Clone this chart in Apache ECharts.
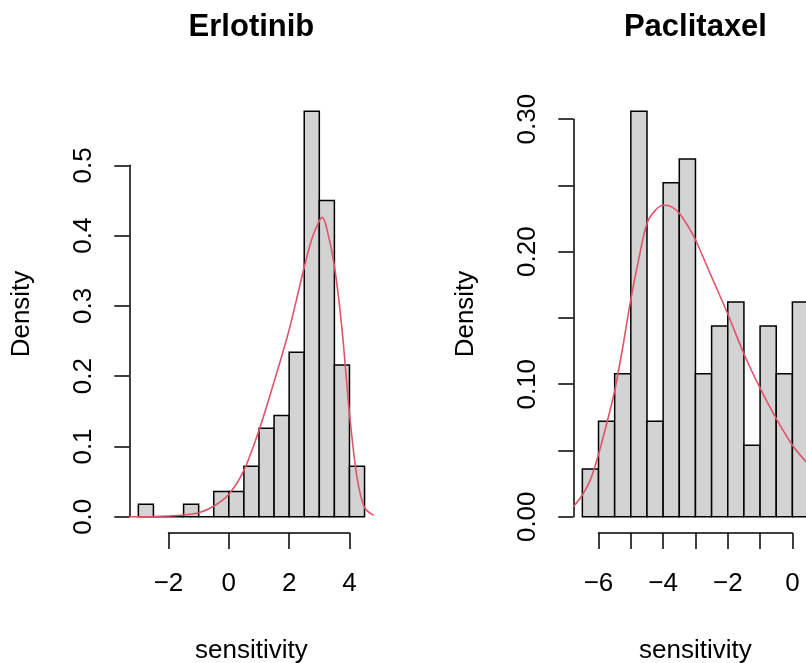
<!DOCTYPE html>
<html>
<head>
<meta charset="utf-8">
<script src="https://cdn.jsdelivr.net/npm/echarts@6/dist/echarts.min.js"></script>
<style>
  html, body { margin: 0; padding: 0; background: #fff; }
  #chart { width: 806px; height: 663px; }
</style>
</head>
<body>
<div id="chart"></div>
<script>
// Erlotinib histogram (bin width 0.5) and density curve
const erlBreaks = [-3, -2.5, -2, -1.5, -1, -0.5, 0, 0.5, 1, 1.5, 2, 2.5, 3, 3.5, 4, 4.5];
const erlDensity = [0.018, 0, 0, 0.018, 0, 0.036, 0.036, 0.072, 0.126, 0.144, 0.234, 0.577, 0.450, 0.216, 0.072];
const erlCurveX = [-3.3, -2.5, -2.0, -1.5, -1.0, -0.5, 0.0, 0.5, 1.0, 1.5, 1.75, 2.0, 2.25, 2.5, 2.75, 3.0, 3.1, 3.25, 3.5, 3.75, 4.0, 4.25, 4.5, 4.8];
const erlCurveY = [0, 0.0003, 0.001, 0.0025, 0.0057, 0.015, 0.032, 0.066, 0.123, 0.192, 0.228, 0.266, 0.31, 0.355, 0.395, 0.421, 0.426, 0.41, 0.357, 0.268, 0.147, 0.056, 0.013, 0.002];
const erlXTicks = [-2, 0, 2, 4];
const erlXLabels = ['−2', '0', '2', '4'];
const erlYTicks = [0, 0.1, 0.2, 0.3, 0.4, 0.5];
const erlYLabels = ['0.0', '0.1', '0.2', '0.3', '0.4', '0.5'];

// Paclitaxel histogram (bin width 0.5) and density curve
const pacBreaks = [-6.5, -6, -5.5, -5, -4.5, -4, -3.5, -3, -2.5, -2, -1.5, -1, -0.5, 0, 0.5];
const pacDensity = [0.036, 0.072, 0.108, 0.306, 0.072, 0.252, 0.270, 0.108, 0.144, 0.162, 0.054, 0.144, 0.108, 0.162];
const pacCurveX = [-6.78, -6.5, -6.25, -6.0, -5.75, -5.5, -5.25, -5.0, -4.75, -4.5, -4.25, -4.0, -3.75, -3.5, -3.25, -3.0, -2.5, -2.0, -1.5, -1.0, -0.5, 0.0, 0.4, 0.78];
const pacCurveY = [0.0075, 0.0164, 0.028, 0.047, 0.070, 0.095, 0.128, 0.164, 0.195, 0.2215, 0.231, 0.235, 0.234, 0.229, 0.220, 0.209, 0.181, 0.153, 0.123, 0.097, 0.074, 0.054, 0.042, 0.031];
const pacXTicks = [-6, -5, -4, -3, -2, -1, 0];
const pacXLabels = ['−6', '', '−4', '', '−2', '', '0'];
const pacYTicks = [0, 0.05, 0.1, 0.15, 0.2, 0.25, 0.3];
const pacYLabels = ['0.00', '', '0.10', '', '0.20', '', '0.30'];

const FONT = '"Liberation Sans", Arial, Helvetica, sans-serif';
const RED = '#DF536B';
const PLOT_TOP = 95, PLOT_H = 438, PLOT_W = 244.3;
const LW = 1.5;

const panels = [
  { title: 'Erlotinib', left: 129.3, breaks: erlBreaks, density: erlDensity, cx: erlCurveX, cy: erlCurveY,
    xTicks: erlXTicks, xLabels: erlXLabels, yTicks: erlYTicks, yLabels: erlYLabels },
  { title: 'Paclitaxel', left: 573.3, breaks: pacBreaks, density: pacDensity, cx: pacCurveX, cy: pacCurveY,
    xTicks: pacXTicks, xLabels: pacXLabels, yTicks: pacYTicks, yLabels: pacYLabels }
];

function renderBar(params, api) {
  const top = api.coord([api.value(0), api.value(2)]);
  const bot = api.coord([api.value(1), 0]);
  return {
    type: 'rect',
    shape: { x: top[0], y: top[1], width: bot[0] - top[0], height: bot[1] - top[1] },
    style: { fill: '#D3D3D3', stroke: '#000', lineWidth: LW }
  };
}

const hidden = { axisLine: { show: false }, axisTick: { show: false }, axisLabel: { show: false }, splitLine: { show: false } };
const blackLine = { show: true, lineStyle: { color: '#000', width: LW } };

let option = {
  animation: false,
  backgroundColor: '#fff',
  textStyle: { fontFamily: FONT, color: '#000' },
  title: [], grid: [], xAxis: [], yAxis: [], series: []
};

panels.forEach(function (p) {
  const b0 = p.breaks[0], b1 = p.breaks[p.breaks.length - 1];
  const dmax = Math.max.apply(null, p.density);
  // R style 4% axis extension
  const xr = [b0 - 0.04 * (b1 - b0), b1 + 0.04 * (b1 - b0)];
  const yr = [-0.04 * dmax, 1.04 * dmax];
  const px = x => p.left + (x - xr[0]) / (xr[1] - xr[0]) * PLOT_W;
  const py = y => PLOT_TOP + (yr[1] - y) / (yr[1] - yr[0]) * PLOT_H;
  const g = option.grid.length;
  const xt = p.xTicks, yt = p.yTicks;

  // plot region
  option.grid.push({ left: p.left, top: PLOT_TOP, width: PLOT_W, height: PLOT_H, outerBoundsMode: 'none' });
  option.xAxis.push(Object.assign({ gridIndex: g, type: 'value', min: xr[0], max: xr[1],
    name: 'sensitivity', nameLocation: 'middle', nameGap: 105,
    nameTextStyle: { fontSize: 26, color: '#000', fontFamily: FONT } }, hidden));
  option.yAxis.push(Object.assign({ gridIndex: g, type: 'value', min: yr[0], max: yr[1],
    name: 'Density', nameLocation: 'middle', nameGap: 94.5, nameRotate: 90,
    nameTextStyle: { fontSize: 26, color: '#000', fontFamily: FONT } }, hidden));

  // x axis, drawn only between the first and last tick
  option.grid.push({ left: px(xt[0]), width: px(xt[xt.length - 1]) - px(xt[0]),
    top: PLOT_TOP + PLOT_H - 1, height: 1, outerBoundsMode: 'none' });
  option.xAxis.push({ gridIndex: g + 1, type: 'value', min: xt[0], max: xt[xt.length - 1], interval: xt[1] - xt[0],
    axisLine: blackLine,
    axisTick: { show: true, length: 16, lineStyle: { color: '#000', width: LW } },
    axisLabel: { margin: 38, fontSize: 26, color: '#000', fontFamily: FONT,
      formatter: v => p.xLabels[Math.round((v - xt[0]) / (xt[1] - xt[0]))] },
    splitLine: { show: false } });
  option.yAxis.push({ gridIndex: g + 1, type: 'value', show: false, min: 0, max: 1 });

  // y axis, drawn only between the first and last tick
  option.grid.push({ left: p.left, width: 1, top: py(yt[yt.length - 1]),
    height: py(yt[0]) - py(yt[yt.length - 1]), outerBoundsMode: 'none' });
  option.xAxis.push({ gridIndex: g + 2, type: 'value', show: false, min: 0, max: 1 });
  option.yAxis.push({ gridIndex: g + 2, type: 'value', min: yt[0], max: yt[yt.length - 1], interval: yt[1] - yt[0],
    axisLine: blackLine,
    axisTick: { show: true, length: 15, lineStyle: { color: '#000', width: LW } },
    axisLabel: { rotate: 90, margin: 32, fontSize: 26, color: '#000', fontFamily: FONT,
      formatter: v => p.yLabels[Math.round((v - yt[0]) / (yt[1] - yt[0]))] },
    splitLine: { show: false } });

  option.title.push({ text: p.title, left: p.left + PLOT_W / 2, top: 11.5, textAlign: 'center', padding: 0,
    textStyle: { fontSize: 31, fontWeight: 'bold', color: '#000', fontFamily: FONT } });

  const bins = p.density.map((d, i) => [p.breaks[i], p.breaks[i + 1], d]);
  option.series.push({ type: 'custom', xAxisIndex: g, yAxisIndex: g, silent: true,
    renderItem: renderBar, data: bins, encode: { x: [0, 1], y: 2 } });
  option.series.push({ type: 'line', xAxisIndex: g, yAxisIndex: g, silent: true, z: 5,
    data: p.cx.map((x, i) => [x, p.cy[i]]), smooth: 0.3, symbol: 'none',
    lineStyle: { color: RED, width: 1.6 } });
});

let myChart = echarts.init(document.getElementById('chart'));
myChart.setOption(option);
</script>
</body>
</html>
